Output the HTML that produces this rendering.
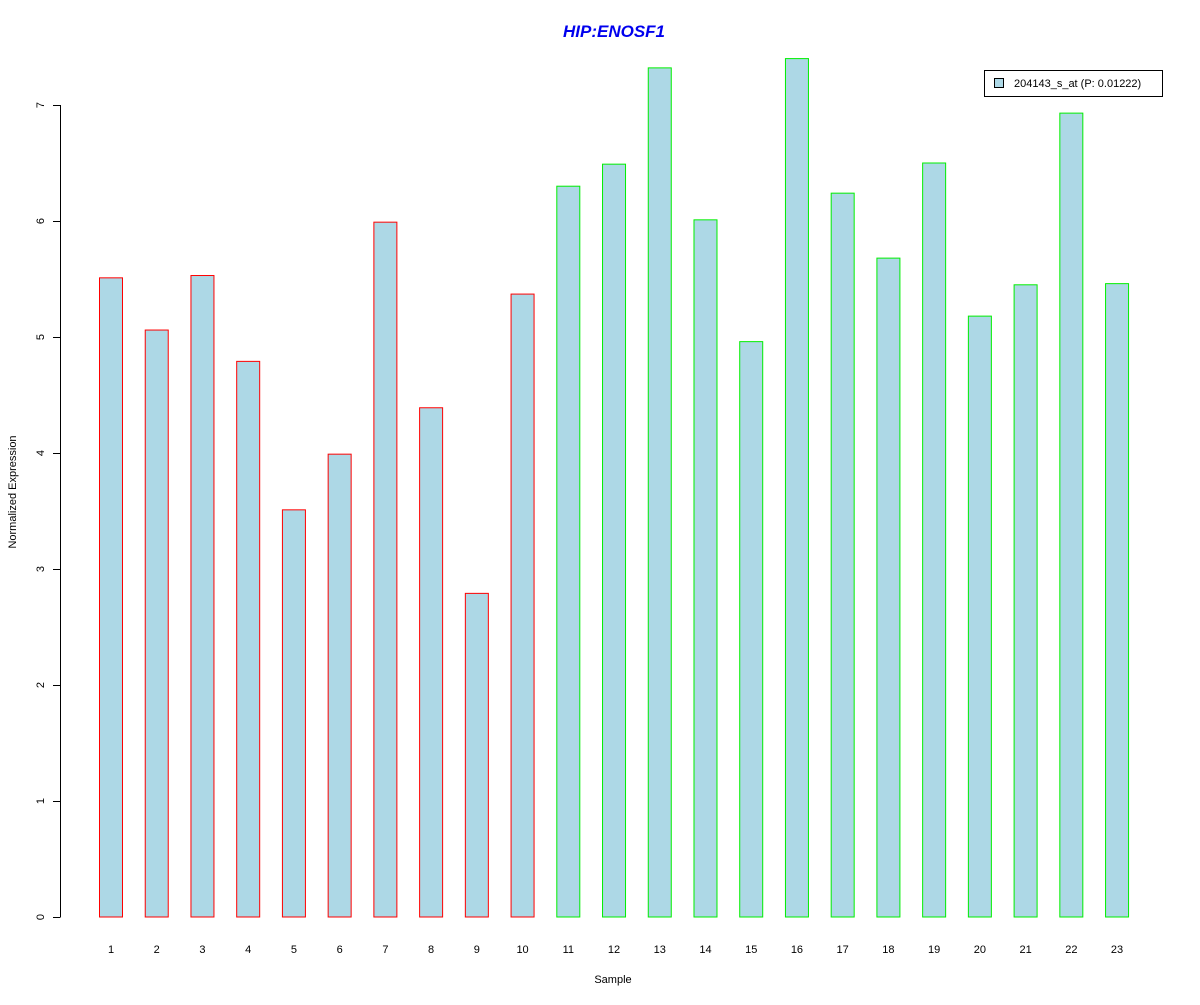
<!DOCTYPE html>
<html><head><meta charset="utf-8"><style>
body{margin:0;background:#fff;}
svg text{font-family:"Liberation Sans",Arial,sans-serif;}
</style></head><body>
<svg id="chart" width="1200" height="1000" xmlns="http://www.w3.org/2000/svg">
<rect width="1200" height="1000" fill="#fff"/>
<text x="614" y="37" text-anchor="middle" font-size="17" font-weight="bold" font-style="italic" fill="#0000ee">HIP:ENOSF1</text>
<text x="613" y="983" text-anchor="middle" font-size="11">Sample</text>
<text transform="translate(16,492) rotate(-90)" text-anchor="middle" font-size="11">Normalized Expression</text>
<g id="yaxis"></g>
<g id="bars"></g>
<g id="xlabels"></g>
<g>
<rect x="984.5" y="70.5" width="178" height="26" fill="#fff" stroke="#000"/>
<rect x="994.5" y="78.5" width="9" height="9" fill="#add8e6" stroke="#000"/>
<text x="1014" y="87" font-size="11">204143_s_at (P: 0.01222)</text>
</g>
</svg>
<script>
const categories = ["1","2","3","4","5","6","7","8","9","10","11","12","13","14","15","16","17","18","19","20","21","22","23"];
const values = [5.51,5.06,5.53,4.79,3.51,3.99,5.99,4.39,2.79,5.37,6.30,6.49,7.32,6.01,4.96,7.40,6.24,5.68,6.50,5.18,5.45,6.93,5.46];
const groups = ["a","a","a","a","a","a","a","a","a","a","b","b","b","b","b","b","b","b","b","b","b","b","b"];
const yTicks = [0,1,2,3,4,5,6,7];
const NS="http://www.w3.org/2000/svg";
const y = v => 917 - v*116;
const x = i => 111 + i*45.73;
const ya=document.getElementById('yaxis');
function mk(tag,attrs,parent){const e=document.createElementNS(NS,tag);for(const k in attrs)e.setAttribute(k,attrs[k]);parent.appendChild(e);return e;}
const axl=mk('line',{x1:60.5,x2:60.5,y1:y(yTicks[0]),y2:y(yTicks[yTicks.length-1]),stroke:'#000'},ya);


yTicks.forEach(t=>{
  const l=mk('line',{x1:53,x2:60.5,y1:y(t)+0.5,y2:y(t)+0.5,stroke:'#000'},ya);
  
  
  const tx=mk('text',{transform:`translate(44,${y(t)}) rotate(-90)`,'text-anchor':'middle','font-size':'11'},ya);
  tx.textContent=t;
  
  
});
const bg=document.getElementById('bars'), xg=document.getElementById('xlabels');
values.forEach((v,i)=>{
  const r=mk('rect',{x:x(i)-11.5,y:y(v),width:23,height:y(0)-y(v),fill:'#add8e6',stroke:groups[i]==='a'?'#ff0000':'#00ee00','stroke-width':1},bg);
  
  
  const t=mk('text',{x:x(i),y:953,'text-anchor':'middle','font-size':'11'},xg);
  t.textContent=categories[i];
  
  
});
</script>
</body></html>
